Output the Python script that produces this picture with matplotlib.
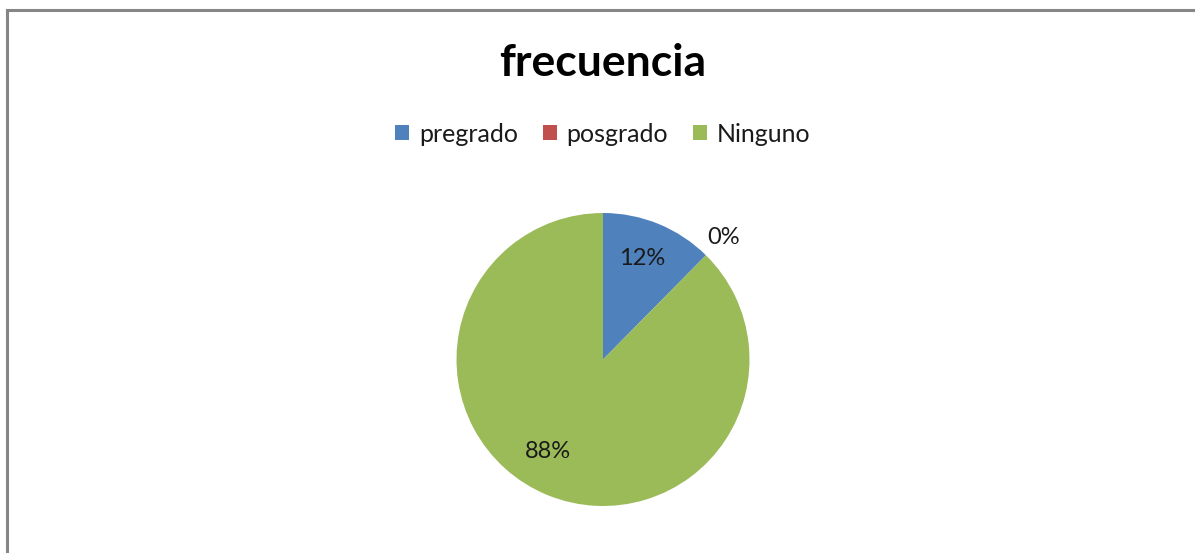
import numpy as np
import matplotlib
matplotlib.use("Agg")
import matplotlib.pyplot as plt
from matplotlib.lines import Line2D
from matplotlib.patches import Patch

categories = ["pregrado", "posgrado", "Ninguno"]
values = [12.4, 0.0, 87.6]
title = "frecuencia"

COLORS = ["#4F81BD", "#C0504D", "#9BBB59"]
# (radial distance, angle nudge in degrees) for each percentage label
LABEL_POS = [(0.74, 1.0), (1.17, 0.0), (0.735, -8.5)]

plt.rcParams["font.family"] = ["Lato", "DejaVu Sans"]
W, H = 1195, 553
fig = plt.figure(figsize=(W / 100, H / 100), dpi=100)
fig.patch.set_facecolor("white")

# chart-area border (only top and left edges visible in the crop)
fig.add_artist(Line2D([7 / W, 7 / W], [0, 1 - 10 / H], color="#868686", lw=2.2))
fig.add_artist(Line2D([7 / W, 1], [1 - 10 / H, 1 - 10 / H], color="#868686", lw=2.2))

cx, cy, r = 603, 359.5, 146.5
ax = fig.add_axes([(cx - r) / W, (H - cy - r) / H, 2 * r / W, 2 * r / H])
wedges, _ = ax.pie(values, colors=COLORS, startangle=90, counterclock=False,
                   radius=1.0, wedgeprops=dict(linewidth=0))
ax.set_xlim(-1, 1); ax.set_ylim(-1, 1); ax.set_aspect("equal")
ax.axis("off")

total = sum(values)
for w, v, (dist, nudge) in zip(wedges, values, LABEL_POS):
    th = np.deg2rad((w.theta1 + w.theta2) / 2 + nudge)
    if v == 0:
        th = np.deg2rad(w.theta1)
    ax.text(dist * np.cos(th), dist * np.sin(th), f"{v / total * 100:.0f}%",
            ha="center", va="center", fontsize=17, color="#1a1a1a", clip_on=False)

fig.text(cx / W, 1 - 63 / H, title, ha="center", va="center",
         fontsize=32, fontweight="bold", color="black")

handles = [Patch(facecolor=c, edgecolor="none") for c in COLORS]
fig.legend(handles, categories, loc="center", bbox_to_anchor=(cx / W, 1 - 134 / H),
           ncol=3, frameon=False, fontsize=18, handlelength=0.55, handleheight=0.55,
           handletextpad=0.4, columnspacing=1.0, labelcolor="#1a1a1a")

fig.savefig("out.png", dpi=100)
